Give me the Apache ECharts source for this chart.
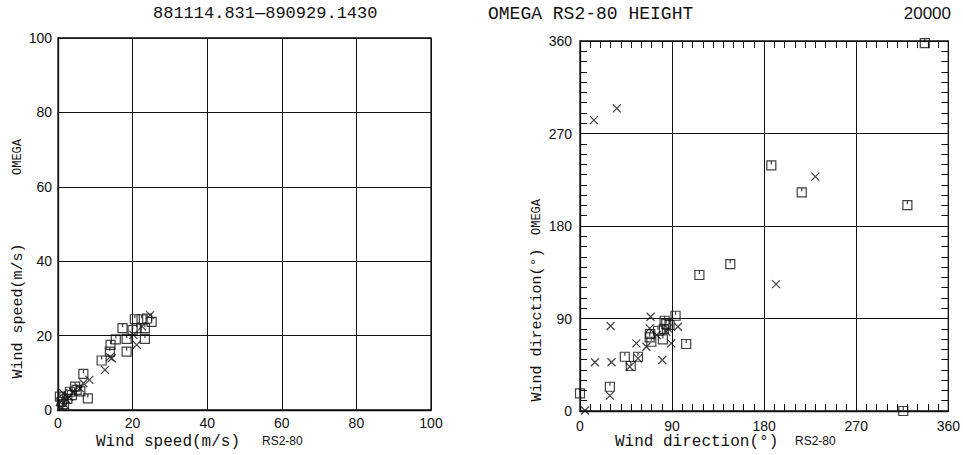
<!DOCTYPE html>
<html>
<head>
<meta charset="utf-8">
<script src="https://cdn.jsdelivr.net/npm/echarts@6/dist/echarts.min.js"></script>
<style>
  html, body { margin: 0; padding: 0; background: #fff; }
  #chart { width: 963px; height: 455px; }
</style>
</head>
<body>
<div id="chart"></div>
<script>
// Wind speed (m/s): RS2-80 (x) vs OMEGA (y)
const speedSquares = [
  [20.6, 24.4], [22.4, 24.4], [23.9, 24.6], [25.1, 23.7], [23.3, 22.0], [21.1, 22.0],
  [17.3, 22.0], [20.0, 21.5], [18.4, 19.1], [23.3, 19.1], [15.5, 19.0], [14.1, 17.5],
  [13.9, 15.7], [18.4, 15.7], [11.7, 13.3], [6.8, 9.7], [8.0, 3.1], [4.6, 6.3],
  [5.0, 5.4], [3.2, 4.9], [3.7, 4.0], [1.0, 2.2], [1.6, 1.6], [0.5, 3.6], [2.5, 3.0], [6.0, 5.0]
];
const speedCrosses = [
  [24.7, 25.5], [21.1, 17.5], [12.6, 10.8], [14.4, 13.9], [8.4, 8.1], [6.8, 7.2],
  [5.9, 5.8], [4.1, 4.9], [1.4, 4.5], [2.3, 2.7], [0.5, 2.2], [1.9, 1.3],
  [20.2, 20.2], [13.9, 14.2], [22.5, 22.5], [0.8, 0.8], [3.0, 3.5]
];

// Wind direction (deg): RS2-80 (x) vs OMEGA (y)
const dirSquares = [
  [93.4, 92.7], [82.7, 87.8], [84.3, 84.6], [87.5, 83.7], [82.0, 80.0], [76.2, 78.1],
  [68.7, 74.9], [68.1, 71.7], [69.7, 67.4], [81.0, 69.7], [103.8, 65.2], [43.8, 52.8],
  [56.7, 52.8], [49.6, 43.8], [29.2, 23.6], [0, 17.2], [116.7, 132.3], [146.9, 143.0],
  [187.0, 239.0], [216.7, 212.7], [320.0, 200.4], [337.0, 358.0], [316.0, 0]
];
const dirCrosses = [
  [69.0, 91.7], [29.9, 82.7], [14.6, 47.4], [30.8, 47.4], [55.1, 65.8], [64.9, 62.5],
  [48.6, 43.1], [56.7, 51.2], [80.4, 49.6], [89.2, 65.8], [95.7, 82.0], [85.9, 80.4],
  [68.1, 80.4], [29.2, 14.9], [4.9, 0.5], [84.3, 77.1], [75.0, 73.9], [13.6, 283.0],
  [36.0, 294.5], [230.0, 228.0], [191.6, 123.5]
];

const speedTicks = { min: 0, max: 100, interval: 20 };
const dirTicks = { min: 0, max: 360, interval: 90, fine: 10 };

const INK = '#111';
const MONO = '"Liberation Mono", "DejaVu Sans Mono", monospace';
const SANS = '"Liberation Sans", Arial, sans-serif';

const squareSymbol = 'path://M0,0H10V10H0ZM5,0V4';
const crossSymbol = 'path://M0,0L10,10M10,0L0,10';

function markerSeries(data, symbol, size, xi, yi) {
  return {
    type: 'scatter', xAxisIndex: xi, yAxisIndex: yi, data: data,
    symbol: symbol, symbolSize: size, silent: true, animation: false,
    itemStyle: { color: 'none', borderColor: INK, borderWidth: 1.2 }
  };
}

const labelStyle = { color: INK, fontFamily: SANS, fontSize: 14 };

function leftAxis(extra) {
  return Object.assign({
    type: 'value', gridIndex: 0,
    min: speedTicks.min, max: speedTicks.max, interval: speedTicks.interval,
    axisLine: { show: true, lineStyle: { color: INK, width: 1.3 } },
    axisTick: { show: false },
    splitLine: { show: true, lineStyle: { color: INK, width: 1 } },
    axisLabel: Object.assign({ margin: 6 }, labelStyle)
  }, extra);
}

// main direction axis: labels and grid every 90 degrees
function dirAxis(extra) {
  return Object.assign({
    type: 'value', gridIndex: 1,
    min: dirTicks.min, max: dirTicks.max, interval: dirTicks.interval,
    axisLine: { show: true, onZero: false, lineStyle: { color: INK, width: 1.3 } },
    axisTick: { show: false },
    splitLine: { show: true, lineStyle: { color: INK, width: 1 } },
    axisLabel: Object.assign({ margin: 8 }, labelStyle)
  }, extra);
}

// 10-degree ticks on the inner side of one frame edge
function dirTickAxis(position) {
  return {
    type: 'value', gridIndex: 1, position: position,
    min: dirTicks.min, max: dirTicks.max, interval: dirTicks.fine,
    axisLine: { show: false, onZero: false },
    axisTick: { show: true, inside: true, length: 7, lineStyle: { color: INK, width: 1 } },
    axisLabel: { show: false },
    splitLine: { show: false }
  };
}

const option = {
  backgroundColor: '#fff',
  animation: false,
  grid: [
    { left: 58, top: 38, width: 373, height: 372, show: true, borderColor: INK, borderWidth: 1.3 },
    { left: 580, top: 41, width: 370, height: 370, show: true, borderColor: INK, borderWidth: 1.3 }
  ],
  xAxis: [
    leftAxis({ position: 'bottom' }),
    dirAxis({ position: 'bottom' }),
    dirTickAxis('bottom'),
    dirTickAxis('top')
  ],
  yAxis: [
    leftAxis({ position: 'left' }),
    dirAxis({ position: 'left' }),
    dirTickAxis('left'),
    dirTickAxis('right')
  ],
  series: [
    markerSeries(speedSquares, squareSymbol, 9, 0, 0),
    markerSeries(speedCrosses, crossSymbol, 8, 0, 0),
    markerSeries(dirSquares, squareSymbol, 9, 1, 1),
    markerSeries(dirCrosses, crossSymbol, 8, 1, 1)
  ],
  graphic: [
    { type: 'text', left: 153, top: 5, style: { text: '881114.831\u2014890929.1430', font: '17px ' + MONO, fill: INK } },
    { type: 'text', left: 488, top: 5, style: { text: 'OMEGA RS2-80 HEIGHT', font: '18px ' + MONO, fill: INK } },
    { type: 'text', right: 12, top: 5, style: { text: '20000', font: '17px ' + SANS, fill: INK } },

    { type: 'text', left: 96, top: 434, style: { text: 'Wind speed(m/s)', font: '16px ' + MONO, fill: INK } },
    { type: 'text', left: 262, top: 435, style: { text: 'RS2-80', font: '12px ' + SANS, fill: INK } },
    { type: 'text', left: 615, top: 434, style: { text: 'Wind direction(\u00b0)', font: '16px ' + MONO, fill: INK } },
    { type: 'text', left: 795, top: 435, style: { text: 'RS2-80', font: '12px ' + SANS, fill: INK } },

    { type: 'text', x: 18, y: 311, rotation: Math.PI / 2,
      style: { text: 'Wind speed(m/s)', font: '15px ' + MONO, fill: INK, align: 'center', verticalAlign: 'middle' } },
    { type: 'text', x: 18, y: 157, rotation: Math.PI / 2,
      style: { text: 'OMEGA', font: '12px ' + MONO, fill: INK, align: 'center', verticalAlign: 'middle' } },
    { type: 'text', x: 537, y: 325, rotation: Math.PI / 2,
      style: { text: 'Wind direction(\u00b0)', font: '15px ' + MONO, fill: INK, align: 'center', verticalAlign: 'middle' } },
    { type: 'text', x: 537, y: 217, rotation: Math.PI / 2,
      style: { text: 'OMEGA', font: '12px ' + MONO, fill: INK, align: 'center', verticalAlign: 'middle' } }
  ]
};

const chart = echarts.init(document.getElementById('chart'), null, { renderer: 'svg' });
chart.setOption(option);
</script>
</body>
</html>
